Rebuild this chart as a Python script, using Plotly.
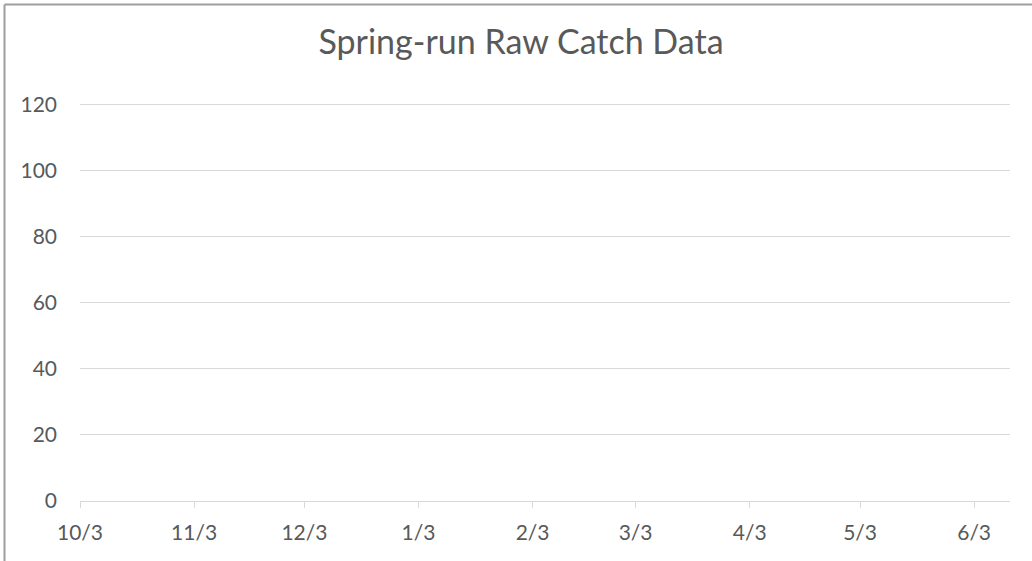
import plotly.graph_objects as go

# Data (chart shows no plotted catch values)
catch_dates = []
catch_counts = []

# Axis ticks
x_tick_dates = ["2018-10-03", "2018-11-03", "2018-12-03", "2019-01-03", "2019-02-03",
                "2019-03-03", "2019-04-03", "2019-05-03", "2019-06-03"]
x_tick_labels = ["10/3", "11/3", "12/3", "1/3", "2/3", "3/3", "4/3", "5/3", "6/3"]
x_range = ["2018-10-03", "2019-06-12 18:00"]
y_ticks = [0, 20, 40, 60, 80, 100, 120]
y_range = [0, 121]

W, H = 1032, 561
L, R, T, B = 80, 22, 101, 60
pw, ph = W - L - R, H - T - B

def px(x):
    return (x - L) / pw

def py(y):
    return (H - B - y) / ph

fig = go.Figure()
fig.add_trace(go.Scatter(x=catch_dates, y=catch_counts, mode="lines",
                         line=dict(color="#4472c4", width=2), showlegend=False))

font_family = "Lato, 'Open Sans', sans-serif"
fig.update_layout(
    width=W, height=H,
    margin=dict(l=L, r=R, t=T, b=B),
    paper_bgcolor="white", plot_bgcolor="white",
    title=dict(text="Spring-run Raw Catch Data", x=521 / W, xanchor="center",
               y=1 - 42 / H, yanchor="middle", xref="container", yref="container",
               font=dict(family=font_family, size=34, color="#595959")),
    font=dict(family=font_family, color="#595959", size=21),
    showlegend=False,
)
fig.update_xaxes(
    type="date", range=x_range, tickvals=x_tick_dates, ticktext=x_tick_labels,
    showgrid=False, zeroline=False, showline=True, linecolor="#d9d9d9", linewidth=1,
    ticks="outside", ticklen=6, tickcolor="#d9d9d9", tickwidth=1, ticklabelstandoff=7,
    tickfont=dict(size=21, color="#595959"),
)
fig.update_yaxes(
    range=y_range, tickvals=y_ticks, showgrid=True, gridcolor="#d9d9d9", gridwidth=1,
    zeroline=False, showline=False, ticks="", ticklabelstandoff=22,
    tickfont=dict(size=21, color="#595959"),
)

# Chart-area border (top and left edges visible in crop)
fig.add_shape(type="line", xref="paper", yref="paper",
              x0=px(4.5), x1=px(W + 5), y0=py(4.5), y1=py(4.5),
              line=dict(color="#9e9e9e", width=2), layer="above")
fig.add_shape(type="line", xref="paper", yref="paper",
              x0=px(4.5), x1=px(4.5), y0=py(4.5), y1=py(H + 5),
              line=dict(color="#9e9e9e", width=2), layer="above")

fig.write_html("out.html", config={"displayModeBar": False},
               post_script="document.body.style.margin='0';document.body.style.overflow='hidden';")
